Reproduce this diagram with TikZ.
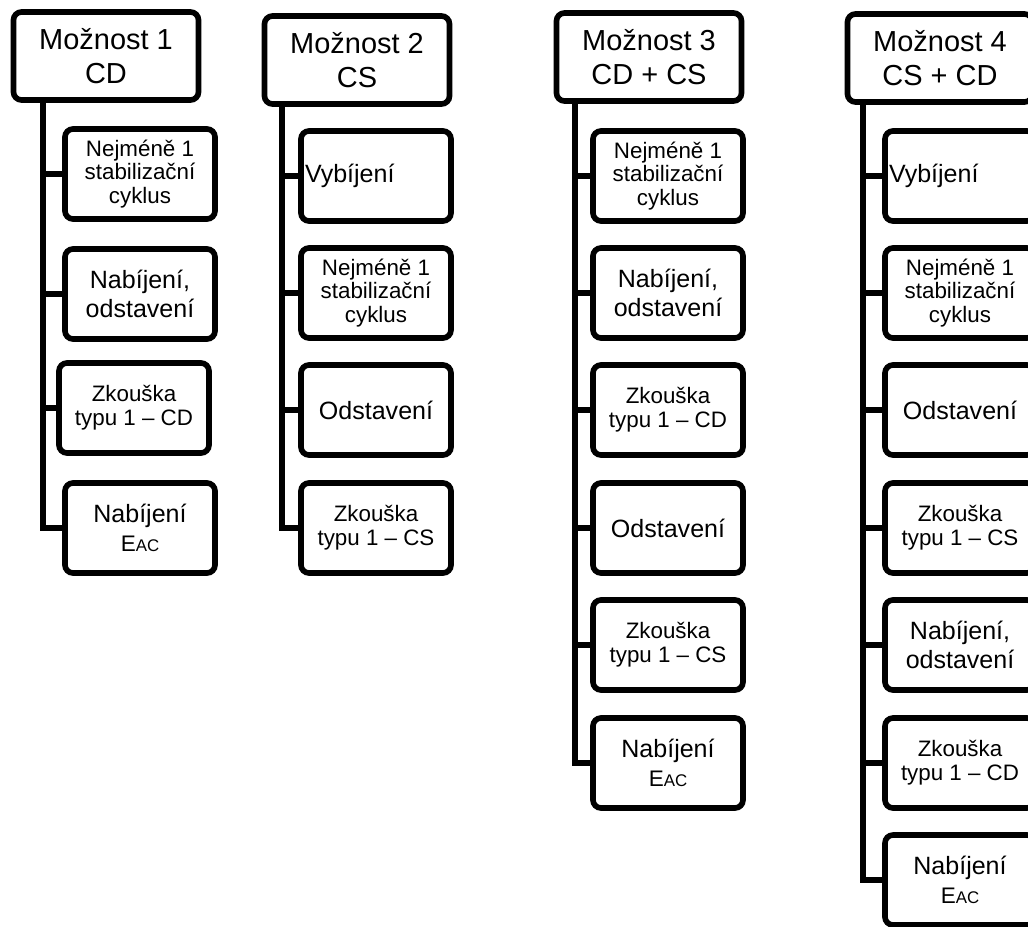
\documentclass[tikz,border=0pt]{standalone}
\usepackage{fontspec}
\setmainfont{Liberation Sans}
\newcommand{\eac}{{\fontsize{16}{19}\selectfont E\fontsize{12}{19}\selectfont AC}}

\begin{document}
\begin{tikzpicture}[
        head/.style={draw, line width=4pt, rounded corners=0.2cm, minimum width=4.625cm, minimum height=2.2cm, align=center, inner sep=1pt, font=\fontsize{20.6}{24.2}\selectfont},
        stage/.style={draw, line width=4pt, rounded corners=0.2cm, minimum width=3.75cm, minimum height=2.25cm, align=center, inner sep=1pt, font=\fontsize{17.8}{20.6}\selectfont},
        stagesm/.style={stage, font=\fontsize{15.9}{17}\selectfont},
        stageleft/.style={stage, text width=3.55cm, align=left, inner xsep=0.1cm}]
        \useasboundingbox (0,0) rectangle (25.7,-23.15);
        \clip (0,0) rectangle (25.7,-23.15);

                % Moznost 1
                \node[head] (H1) at (2.65,-1.4) {Možnost 1\\CD};
                \node[stagesm] (A1) at (3.5,-4.35) {Nejméně 1\\stabilizační\\cyklus};
                \node[stage] (B1) at (3.5,-7.35) {Nabíjení,\\odstavení};
                \node[stagesm] (C1) at (3.35,-10.2) {Zkouška\\typu 1 – CD};
                \node[stage] (D1) at (3.5,-13.2) {Nabíjení\\\eac};

                % Moznost 2
                \node[head] (H2) at (8.925,-1.5) {Možnost 2\\CS};
                \node[stageleft] (A2) at (9.4,-4.4) {Vybíjení};
                \node[stagesm] (B2) at (9.4,-7.325) {Nejméně 1\\stabilizační\\cyklus};
                \node[stage] (C2) at (9.4,-10.25) {Odstavení};
                \node[stagesm] (D2) at (9.4,-13.2) {Zkouška\\typu 1 – CS};

                % Moznost 3
                \node[head] (H3) at (16.225,-1.425) {Možnost 3\\CD + CS};
                \node[stagesm] (A3) at (16.7,-4.4) {Nejméně 1\\stabilizační\\cyklus};
                \node[stage] (B3) at (16.7,-7.325) {Nabíjení,\\odstavení};
                \node[stagesm] (C3) at (16.7,-10.25) {Zkouška\\typu 1 – CD};
                \node[stage] (D3) at (16.7,-13.2) {Odstavení};
                \node[stagesm] (E3) at (16.7,-16.125) {Zkouška\\typu 1 – CS};
                \node[stage] (F3) at (16.7,-19.075) {Nabíjení\\\eac};

                % Moznost 4
                \node[head] (H4) at (23.5,-1.45) {Možnost 4\\CS + CD};
                \node[stageleft] (A4) at (24.0,-4.4) {Vybíjení};
                \node[stagesm] (B4) at (24.0,-7.325) {Nejméně 1\\stabilizační\\cyklus};
                \node[stage] (C4) at (24.0,-10.25) {Odstavení};
                \node[stagesm] (D4) at (24.0,-13.2) {Zkouška\\typu 1 – CS};
                \node[stage] (E4) at (24.0,-16.125) {Nabíjení,\\odstavení};
                \node[stagesm] (F4) at (24.0,-19.075) {Zkouška\\typu 1 – CD};
                \node[stage] (G4) at (24.0,-22.0) {Nabíjení\\\eac};

                % spines from each header down to its steps
                \coordinate (s1) at (1.075,-2.5);
                \coordinate (s2) at (7.05,-2.6);
                \coordinate (s3) at (14.375,-2.5);
                \coordinate (s4) at (21.575,-2.55);
                \begin{scope}[line width=4pt]
                        \draw (s1) |- (A1.west);
                        \draw (s1) |- (B1.west);
                        \draw (s1) |- (C1.west);
                        \draw (s1) |- (D1.west);
                        \draw (s2) |- (A2.west);
                        \draw (s2) |- (B2.west);
                        \draw (s2) |- (C2.west);
                        \draw (s2) |- (D2.west);
                        \draw (s3) |- (A3.west);
                        \draw (s3) |- (B3.west);
                        \draw (s3) |- (C3.west);
                        \draw (s3) |- (D3.west);
                        \draw (s3) |- (E3.west);
                        \draw (s3) |- (F3.west);
                        \draw (s4) |- (A4.west);
                        \draw (s4) |- (B4.west);
                        \draw (s4) |- (C4.west);
                        \draw (s4) |- (D4.west);
                        \draw (s4) |- (E4.west);
                        \draw (s4) |- (F4.west);
                        \draw (s4) |- (G4.west);
                \end{scope}
\end{tikzpicture}
\end{document}
